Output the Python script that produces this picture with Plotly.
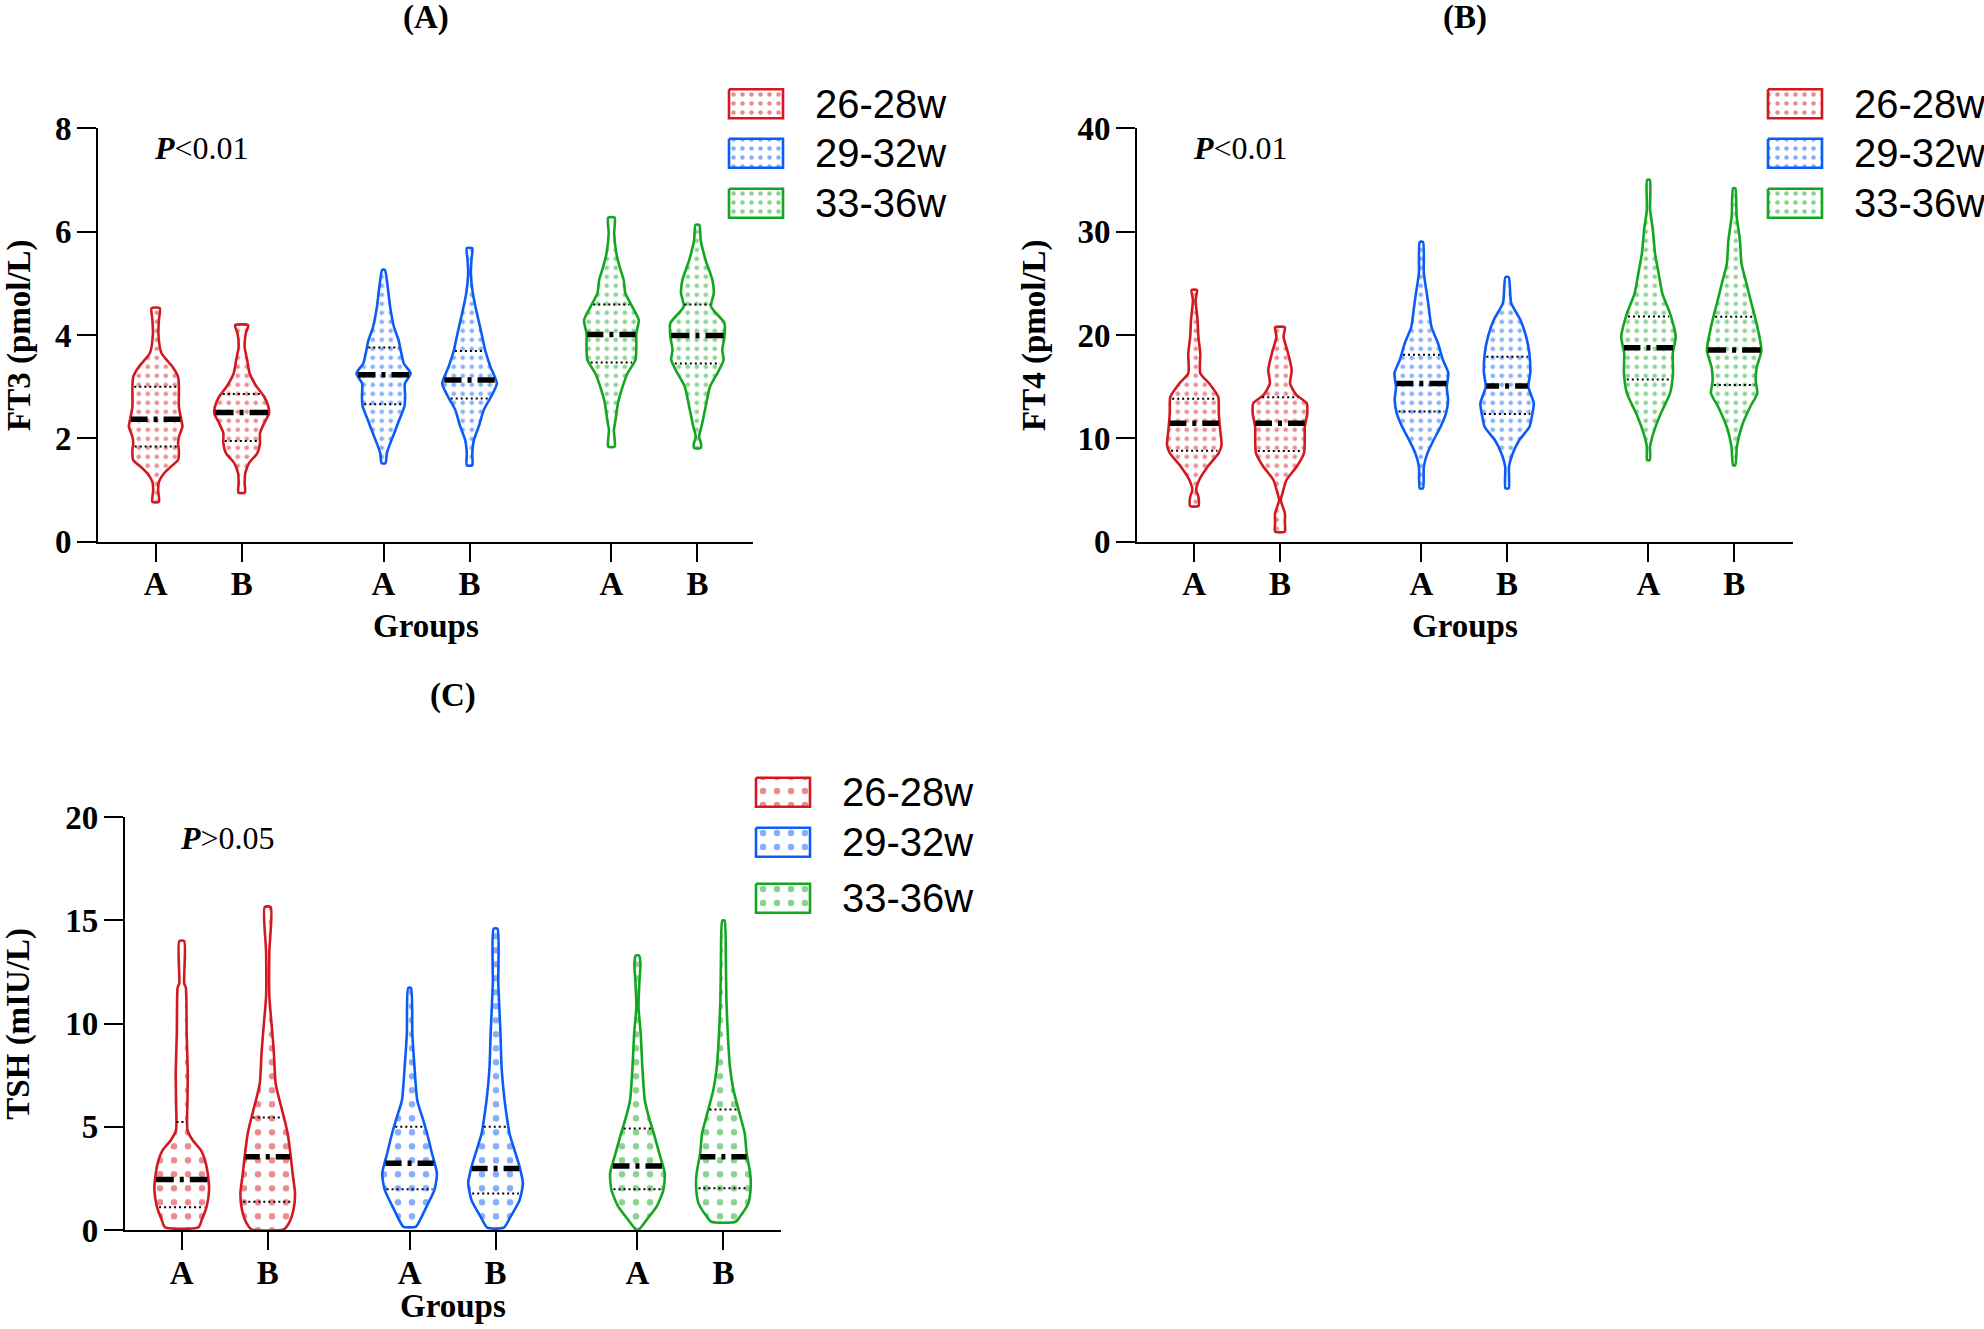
import numpy as np
import plotly.graph_objects as go

W, H = 1984, 1329

# ---------------- data ----------------
series_names = ["26-28w", "29-32w", "33-36w"]
sub_labels = ["A", "B"]
series_colors = ["#D3191F", "#0B5CF5", "#13A620"]

# FT3 (pmol/L): violin outlines = value levels and relative half-widths
ft3_2628_A_y = [0.77, 1.00, 1.16, 1.32, 1.45, 1.58, 1.77, 1.90, 2.03, 2.23, 2.35, 2.61, 3.00, 3.19, 3.39, 3.65, 4.03, 4.30, 4.52]
ft3_2628_A_w = [0.12, 0.09, 0.12, 0.30, 0.55, 0.82, 0.85, 0.82, 0.85, 0.98, 0.94, 0.85, 0.85, 0.82, 0.61, 0.21, 0.10, 0.12, 0.15]
ft3_2628_B_y = [0.95, 1.13, 1.32, 1.52, 1.71, 1.90, 2.10, 2.29, 2.48, 2.61, 2.81, 3.00, 3.26, 3.52, 3.77, 4.03, 4.19]
ft3_2628_B_w = [0.12, 0.11, 0.13, 0.27, 0.57, 0.67, 0.67, 0.82, 1.00, 0.98, 0.82, 0.55, 0.29, 0.20, 0.11, 0.15, 0.24]
ft3_2932_A_y = [1.52, 1.71, 1.84, 2.10, 2.35, 2.61, 2.81, 3.06, 3.26, 3.45, 3.65, 3.90, 4.16, 4.55, 4.94, 5.26]
ft3_2932_A_w = [0.07, 0.12, 0.20, 0.39, 0.57, 0.76, 0.79, 0.78, 0.99, 0.74, 0.65, 0.55, 0.38, 0.24, 0.15, 0.05]
ft3_2932_B_y = [1.48, 1.71, 1.97, 2.23, 2.55, 2.81, 3.06, 3.39, 3.71, 4.03, 4.42, 4.81, 5.19, 5.45, 5.68]
ft3_2932_B_w = [0.10, 0.10, 0.16, 0.34, 0.52, 0.79, 1.00, 0.76, 0.57, 0.44, 0.27, 0.12, 0.05, 0.07, 0.10]
ft3_3336_A_y = [1.84, 1.97, 2.16, 2.35, 2.68, 3.00, 3.26, 3.52, 3.77, 4.03, 4.29, 4.55, 4.81, 5.06, 5.32, 5.58, 5.97, 6.27]
ft3_3336_A_w = [0.12, 0.12, 0.09, 0.15, 0.24, 0.41, 0.59, 0.88, 0.91, 0.91, 1.00, 0.76, 0.51, 0.45, 0.30, 0.18, 0.10, 0.12]
ft3_3336_B_y = [1.81, 1.90, 2.03, 2.23, 2.61, 3.00, 3.26, 3.52, 3.71, 3.97, 4.23, 4.55, 4.81, 5.06, 5.45, 5.84, 6.13]
ft3_3336_B_w = [0.12, 0.13, 0.06, 0.15, 0.30, 0.46, 0.73, 0.96, 0.91, 0.99, 0.99, 0.50, 0.60, 0.55, 0.30, 0.12, 0.07]
ft3_median = [2.37, 2.50, 3.23, 3.13, 4.01, 3.99]
ft3_q1 = [1.84, 1.95, 2.66, 2.77, 3.47, 3.45]
ft3_q3 = [3.00, 2.86, 3.76, 3.69, 4.59, 4.59]

# FT4 (pmol/L)
ft4_2628_A_y = [3.45, 4.35, 5.00, 5.97, 7.26, 8.55, 9.35, 10.8, 12.4, 14.0, 15.3, 16.3, 18.2, 19.84, 21.45, 23.4, 24.35]
ft4_2628_A_w = [0.15, 0.15, 0.07, 0.18, 0.49, 0.89, 1.00, 0.95, 0.90, 0.88, 0.55, 0.22, 0.22, 0.15, 0.12, 0.05, 0.10]
ft4_2628_B_y = [0.97, 1.77, 2.74, 4.03, 4.68, 5.97, 7.26, 8.55, 9.84, 11.1, 12.4, 13.4, 14.2, 15.3, 16.6, 18.2, 19.84, 20.74]
ft4_2628_B_w = [0.18, 0.18, 0.18, 0.03, 0.09, 0.24, 0.61, 0.88, 0.91, 0.91, 1.00, 0.98, 0.60, 0.37, 0.43, 0.30, 0.13, 0.18]
ft4_2932_A_y = [5.16, 7.26, 8.55, 9.84, 11.1, 12.4, 13.7, 15.0, 16.3, 17.6, 19.2, 20.8, 22.7, 24.0, 26.0, 29.0]
ft4_2932_A_w = [0.06, 0.09, 0.22, 0.45, 0.70, 0.90, 0.98, 0.93, 0.99, 0.79, 0.61, 0.37, 0.27, 0.20, 0.09, 0.06]
ft4_2932_B_y = [5.16, 7.26, 8.55, 9.84, 11.1, 12.4, 13.4, 15.0, 16.3, 18.2, 19.84, 21.45, 23.1, 25.6]
ft4_2932_B_w = [0.06, 0.07, 0.21, 0.45, 0.82, 0.93, 0.98, 0.78, 0.85, 0.82, 0.70, 0.49, 0.15, 0.06]
ft4_3336_A_y = [7.9, 9.2, 10.5, 12.4, 14.35, 16.3, 18.2, 19.84, 22.1, 24.0, 26.0, 27.9, 30.2, 32.1, 35.0]
ft4_3336_A_w = [0.05, 0.06, 0.18, 0.45, 0.79, 0.90, 0.89, 1.00, 0.79, 0.51, 0.37, 0.24, 0.16, 0.06, 0.05]
ft4_3336_B_y = [7.4, 9.2, 11.1, 13.06, 14.35, 15.6, 16.9, 18.5, 20.8, 23.1, 25.0, 26.9, 29.2, 31.5, 34.2]
ft4_3336_B_w = [0.04, 0.10, 0.27, 0.59, 0.85, 0.79, 0.83, 1.00, 0.85, 0.63, 0.45, 0.27, 0.21, 0.09, 0.04]
ft4_median = [11.45, 11.45, 15.3, 15.06, 18.77, 18.55]
ft4_q1 = [8.8, 8.77, 12.6, 12.35, 15.7, 15.16]
ft4_q3 = [13.84, 13.97, 18.1, 17.9, 21.8, 21.77]

# TSH (mIU/L)
tsh_2628_A_y = [0.13, 0.48, 1.13, 1.94, 2.74, 3.39, 3.87, 4.35, 4.84, 6.29, 7.58, 9.52, 11.75, 11.95, 14.0]
tsh_2628_A_w = [0.61, 0.73, 0.91, 1.00, 0.95, 0.85, 0.70, 0.40, 0.21, 0.21, 0.22, 0.18, 0.15, 0.09, 0.09]
tsh_2628_B_y = [0.03, 0.32, 0.97, 1.77, 2.74, 3.71, 4.68, 5.32, 6.29, 7.10, 8.70, 10.3, 11.3, 13.5, 15.65]
tsh_2628_B_w = [0.59, 0.77, 0.94, 1.00, 0.91, 0.83, 0.73, 0.62, 0.43, 0.29, 0.22, 0.12, 0.06, 0.06, 0.11]
tsh_2932_A_y = [0.16, 0.48, 1.13, 1.94, 2.74, 3.71, 4.52, 5.32, 6.29, 7.90, 9.52, 11.73]
tsh_2932_A_w = [0.23, 0.38, 0.62, 0.91, 1.00, 0.82, 0.67, 0.50, 0.28, 0.18, 0.10, 0.05]
tsh_2932_B_y = [0.11, 0.65, 1.45, 2.26, 3.06, 3.71, 4.68, 5.32, 6.29, 7.90, 9.52, 11.94, 14.6]
tsh_2932_B_w = [0.30, 0.55, 0.88, 1.00, 0.88, 0.73, 0.51, 0.43, 0.33, 0.22, 0.18, 0.10, 0.07]
tsh_3336_A_y = [0.0, 0.48, 1.13, 1.94, 2.74, 3.71, 4.68, 5.32, 6.29, 7.90, 9.52, 10.8, 11.94, 12.9, 13.3]
tsh_3336_A_w = [0.04, 0.33, 0.70, 0.95, 1.00, 0.80, 0.60, 0.45, 0.27, 0.18, 0.12, 0.04, 0.07, 0.11, 0.06]
tsh_3336_B_y = [0.40, 0.65, 1.29, 2.10, 2.74, 3.71, 4.68, 5.65, 6.77, 7.90, 9.52, 11.13, 13.06, 15.0]
tsh_3336_B_w = [0.45, 0.61, 0.91, 1.00, 0.98, 0.85, 0.78, 0.59, 0.37, 0.24, 0.16, 0.11, 0.09, 0.04]
tsh_median = [2.45, 3.55, 3.23, 2.98, 3.10, 3.55]
tsh_q1 = [1.10, 1.37, 1.98, 1.77, 1.97, 2.02]
tsh_q3 = [5.23, 5.45, 5.00, 5.00, 4.92, 5.84]

ft3_ticks = [0, 2, 4, 6, 8]
ft4_ticks = [0, 10, 20, 30, 40]
tsh_ticks = [0, 5, 10, 15, 20]

# ---------------- layout helpers ----------------
def fx(px):
    return px / W

def fy(py):
    return 1 - py / H

GROUP_STEP = 2.65
MAX_HALF = 0.318

panels = [
    dict(prof=[(ft3_2628_A_y, ft3_2628_A_w), (ft3_2628_B_y, ft3_2628_B_w),
               (ft3_2932_A_y, ft3_2932_A_w), (ft3_2932_B_y, ft3_2932_B_w),
               (ft3_3336_A_y, ft3_3336_A_w), (ft3_3336_B_y, ft3_3336_B_w)],
         med=ft3_median, q1=ft3_q1, q3=ft3_q3, ticks=ft3_ticks,
         xdom=(98.3, 753.3), ydom=(128.3, 541.7), xr=(-0.667, 6.95),
         title="(A)", title_xy=(426, 17), ytitle="FT3 (pmol/L)", ytitle_x=19, groups_y=626,
         ptext="<b><i>P</i></b>&lt;0.01", p_xy=(152, 148),
         leg_x=729, leg_rows=(103.7, 153.3, 203.3), pat=(9, 0.2)),
    dict(prof=[(ft4_2628_A_y, ft4_2628_A_w), (ft4_2628_B_y, ft4_2628_B_w),
               (ft4_2932_A_y, ft4_2932_A_w), (ft4_2932_B_y, ft4_2932_B_w),
               (ft4_3336_A_y, ft4_3336_A_w), (ft4_3336_B_y, ft4_3336_B_w)],
         med=ft4_median, q1=ft4_q1, q3=ft4_q3, ticks=ft4_ticks,
         xdom=(1137.3, 1793.3), ydom=(128.3, 541.7), xr=(-0.665, 6.99),
         title="(B)", title_xy=(1465, 17), ytitle="FT4 (pmol/L)", ytitle_x=1034, groups_y=626,
         ptext="<b><i>P</i></b>&lt;0.01", p_xy=(1191, 148),
         leg_x=1768, leg_rows=(103.7, 153.3, 203.3), pat=(9, 0.2)),
    dict(prof=[(tsh_2628_A_y, tsh_2628_A_w), (tsh_2628_B_y, tsh_2628_B_w),
               (tsh_2932_A_y, tsh_2932_A_w), (tsh_2932_B_y, tsh_2932_B_w),
               (tsh_3336_A_y, tsh_3336_A_w), (tsh_3336_B_y, tsh_3336_B_w)],
         med=tsh_median, q1=tsh_q1, q3=tsh_q3, ticks=tsh_ticks,
         xdom=(125.0, 781.0), ydom=(817.3, 1230.0), xr=(-0.66, 6.97),
         title="(C)", title_xy=(453, 695), ytitle="TSH (mIU/L)", ytitle_x=19, groups_y=1306,
         ptext="<b><i>P</i></b>&gt;0.05", p_xy=(178, 838),
         leg_x=756, leg_rows=(792.3, 842.3, 898.3), pat=(14, 0.17)),
]

SERIF = "Liberation Serif, Times New Roman, serif"
SANS = "Liberation Sans, Arial, sans-serif"

fig = go.Figure()
annotations = []
layout_axes = {}

for i, p in enumerate(panels):
    sfx = "" if i == 0 else str(i + 1)
    xa, ya = "x" + sfx, "y" + sfx
    ymax = p["ticks"][-1]
    positions = [g * GROUP_STEP + s for g in range(3) for s in range(2)]
    px_per_unit = (p["xdom"][1] - p["xdom"][0]) / (p["xr"][1] - p["xr"][0])
    psize, psol = p["pat"]

    for k, (vals, wids) in enumerate(p["prof"]):
        g = k // 2
        col = series_colors[g]
        pos = positions[k]
        v = np.array(vals, dtype=float)
        w = np.array(wids, dtype=float) * MAX_HALF
        xs = np.concatenate([pos - w, (pos + w)[::-1], [pos - w[0]]])
        ys = np.concatenate([v, v[::-1], [v[0]]])
        fig.add_trace(go.Scatter(
            x=xs, y=ys, mode="lines", fill="toself",
            fillpattern=dict(shape=".", fgcolor=col, bgcolor="white", size=psize, solidity=psol),
            line=dict(color=col, width=2.6, shape="spline", smoothing=0.6),
            xaxis=xa, yaxis=ya, hoverinfo="skip", showlegend=False))

        # quartile lines (dotted)
        for qv in (p["q1"][k], p["q3"][k]):
            hw = np.interp(qv, v, w) * 0.92
            fig.add_trace(go.Scatter(
                x=[pos - hw, pos + hw], y=[qv, qv], mode="lines",
                line=dict(color="black", width=2, dash="2px,3px"),
                xaxis=xa, yaxis=ya, hoverinfo="skip", showlegend=False))
        # median line (dash-dot)
        mv = p["med"][k]
        hw = np.interp(mv, v, w) * 0.97
        total = 2 * hw * px_per_unit
        dot, gap = 4.0, 6.0
        dash = max((total - dot - 2 * gap) / 2, 2)
        fig.add_trace(go.Scatter(
            x=[pos - hw, pos + hw], y=[mv, mv], mode="lines",
            line=dict(color="black", width=5.5,
                      dash=f"{dash:.1f}px,{gap}px,{dot}px,{gap}px,{dash + 20:.1f}px"),
            xaxis=xa, yaxis=ya, hoverinfo="skip", showlegend=False))

    tickfont = dict(family=SERIF, size=33, color="black", weight="bold")
    layout_axes["xaxis" + sfx] = dict(
        domain=[fx(p["xdom"][0]), fx(p["xdom"][1])], range=list(p["xr"]), anchor=ya,
        tickmode="array", tickvals=positions, ticktext=sub_labels * 3,
        ticks="outside", ticklen=18, tickwidth=2, tickcolor="black", ticklabelstandoff=-6,
        showline=True, linewidth=2.2, linecolor="black", showgrid=False, zeroline=False,
        tickfont=tickfont, fixedrange=True, automargin=False)
    layout_axes["yaxis" + sfx] = dict(
        domain=[fy(p["ydom"][1]), fy(p["ydom"][0])], range=[0, ymax], anchor=xa,
        tickmode="array", tickvals=p["ticks"], ticktext=[str(t) for t in p["ticks"]],
        ticks="outside", ticklen=19, tickwidth=2, tickcolor="black", ticklabelstandoff=-1,
        showline=True, linewidth=2.2, linecolor="black", showgrid=False, zeroline=False,
        tickfont=tickfont, fixedrange=True, automargin=False)

    xmid = (p["xdom"][0] + p["xdom"][1]) / 2
    ymid = (p["ydom"][0] + p["ydom"][1]) / 2
    annotations += [
        dict(text="<b>" + p["title"] + "</b>", x=fx(p["title_xy"][0]), y=fy(p["title_xy"][1]),
             xref="paper", yref="paper", showarrow=False, xanchor="center", yanchor="middle",
             font=dict(family=SERIF, size=33, color="black")),
        dict(text="<b>Groups</b>", x=fx(xmid), y=fy(p["groups_y"]), xref="paper", yref="paper",
             showarrow=False, xanchor="center", yanchor="middle",
             font=dict(family=SERIF, size=33, color="black")),
        dict(text="<b>" + p["ytitle"] + "</b>", x=fx(p["ytitle_x"]), y=fy(ymid), xref="paper",
             yref="paper", showarrow=False, textangle=-90, xanchor="center", yanchor="middle",
             font=dict(family=SERIF, size=33, color="black")),
        dict(text=p["ptext"], x=fx(p["p_xy"][0]), y=fy(p["p_xy"][1]), xref="paper", yref="paper",
             showarrow=False, xanchor="left", yanchor="middle",
             font=dict(family=SERIF, size=32, color="black")),
    ]

    # custom legend with patterned swatches (overlay pixel axis)
    for g, yc in enumerate(p["leg_rows"]):
        col = series_colors[g]
        x0, x1 = p["leg_x"], p["leg_x"] + 54
        y0, y1 = yc - 14.5, yc + 14.5
        fig.add_trace(go.Scatter(
            x=[x0, x1, x1, x0, x0], y=[y0, y0, y1, y1, y0], mode="lines", fill="toself",
            fillpattern=dict(shape=".", fgcolor=col, bgcolor="white", size=psize, solidity=psol),
            line=dict(color=col, width=2.6), xaxis="x4", yaxis="y4",
            hoverinfo="skip", showlegend=False))
        annotations.append(dict(
            text=series_names[g], x=fx(p["leg_x"] + 84), y=fy(yc), xref="paper", yref="paper",
            showarrow=False, xanchor="left", yanchor="middle",
            font=dict(family=SANS, size=40, color="black")))

layout_axes["xaxis4"] = dict(domain=[0, 1], range=[0, W], anchor="y4", visible=False,
                             fixedrange=True, automargin=False)
layout_axes["yaxis4"] = dict(domain=[0, 1], range=[H, 0], anchor="x4", visible=False,
                             fixedrange=True, automargin=False)

fig.update_layout(
    width=W, height=H, autosize=False,
    margin=dict(l=0, r=0, t=0, b=0, pad=0, autoexpand=False),
    paper_bgcolor="white", plot_bgcolor="rgba(0,0,0,0)",
    showlegend=False, annotations=annotations, **layout_axes)

fig.write_html("out.html")
